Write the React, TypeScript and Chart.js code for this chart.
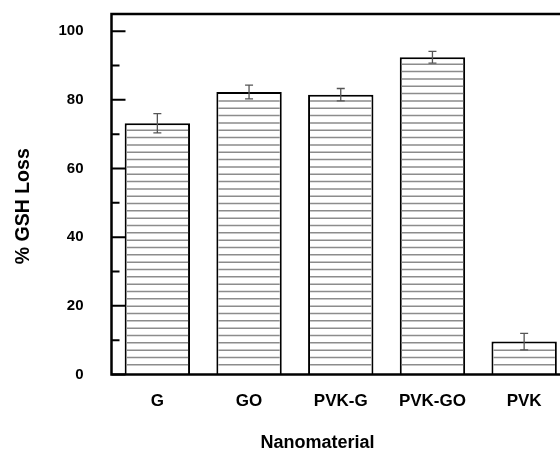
import React, { useEffect, useRef } from 'react';
import { Chart, registerables } from 'chart.js';

Chart.register(...registerables);

const categories = ['G', 'GO', 'PVK-G', 'PVK-GO', 'PVK'];
const gshLoss = [73.2, 82.3, 81.5, 92.4, 9.6];
const gshError = [2.8, 2.0, 1.8, 1.7, 2.4];
const yMajorTicks = [0, 20, 40, 60, 80, 100];
const yMinorTicks = [10, 30, 50, 70, 90];
const xTitle = 'Nanomaterial';
const yTitle = '% GSH Loss';

const FONT = '"Liberation Sans", Arial, Helvetica, sans-serif';

const decorPlugin = {
  id: 'decor',
  afterDatasetsDraw(chart: any) {
    const ctx: CanvasRenderingContext2D = chart.ctx;
    const { left, top, bottom } = chart.chartArea;
    const yScale = chart.scales.y;
    const meta = chart.getDatasetMeta(0);
    ctx.save();

    // horizontal hatch inside bars
    ctx.strokeStyle = '#8c8c8c';
    ctx.lineWidth = 1.5;
    meta.data.forEach((bar: any) => {
      const p = bar.getProps(['x', 'y', 'base', 'width'], true);
      const x0 = p.x - p.width / 2 + 2;
      const x1 = p.x + p.width / 2 - 2;
      ctx.beginPath();
      for (let ly = p.base - 9.7; ly > p.y + 3; ly -= 7.33) {
        ctx.moveTo(x0, ly);
        ctx.lineTo(x1, ly);
      }
      ctx.stroke();
    });

    // error bars
    ctx.strokeStyle = '#555';
    ctx.lineWidth = 1.3;
    meta.data.forEach((bar: any, i: number) => {
      const p = bar.getProps(['x'], true);
      const yHi = yScale.getPixelForValue(gshLoss[i] + gshError[i]);
      const yLo = yScale.getPixelForValue(gshLoss[i] - gshError[i]);
      ctx.beginPath();
      ctx.moveTo(p.x, yHi);
      ctx.lineTo(p.x, yLo);
      ctx.moveTo(p.x - 4, yHi);
      ctx.lineTo(p.x + 4, yHi);
      ctx.moveTo(p.x - 4, yLo);
      ctx.lineTo(p.x + 4, yLo);
      ctx.stroke();
    });

    // frame (left, top, bottom)
    ctx.strokeStyle = '#000';
    ctx.lineWidth = 2.5;
    ctx.lineCap = 'square';
    ctx.beginPath();
    ctx.moveTo(chart.width, top);
    ctx.lineTo(left, top);
    ctx.lineTo(left, bottom);
    ctx.lineTo(chart.width, bottom);
    ctx.stroke();

    // inward tick marks
    ctx.lineWidth = 2;
    ctx.lineCap = 'butt';
    ctx.beginPath();
    yMajorTicks.forEach((v) => {
      const py = yScale.getPixelForValue(v);
      ctx.moveTo(left, py);
      ctx.lineTo(left + 14, py);
    });
    yMinorTicks.forEach((v) => {
      const py = yScale.getPixelForValue(v);
      ctx.moveTo(left, py);
      ctx.lineTo(left + 8, py);
    });
    ctx.stroke();

    // axis titles
    ctx.fillStyle = '#000';
    ctx.textAlign = 'center';
    ctx.textBaseline = 'middle';
    ctx.font = `bold 18px ${FONT}`;
    ctx.fillText(xTitle, left + 206, bottom + 68.5);
    ctx.font = `bold 19.5px ${FONT}`;
    ctx.translate(24, (top + bottom) / 2 + 12);
    ctx.rotate(-Math.PI / 2);
    ctx.fillText(yTitle, 0, 0);
    ctx.restore();
  },
};

export default function App() {
  const canvasRef = useRef<HTMLCanvasElement | null>(null);

  useEffect(() => {
    if (!canvasRef.current) return;
    const chart = new Chart(canvasRef.current, {
      type: 'bar',
      data: {
        labels: categories,
        datasets: [
          {
            data: gshLoss,
            backgroundColor: '#ffffff',
            borderColor: '#000000',
            borderWidth: 2,
            borderSkipped: 'start',
            categoryPercentage: 1,
            barPercentage: 0.713,
          },
        ],
      },
      options: {
        responsive: false,
        animation: false,
        devicePixelRatio: 1,
        layout: { padding: { top: 14, right: 10, left: 0, bottom: 0 } },
        plugins: {
          legend: { display: false },
          tooltip: { enabled: false },
          title: { display: false },
        },
        scales: {
          x: {
            grid: { display: false, drawTicks: false },
            border: { display: false },
            ticks: {
              color: '#000',
              padding: 17,
              font: { family: FONT, size: 17, weight: 'bold' },
            },
            afterFit: (scale: any) => {
              scale.height = 76.5;
              scale.paddingLeft = 0;
              scale.paddingRight = 0;
            },
          },
          y: {
            min: 0,
            max: 105,
            grid: { display: false, drawTicks: false },
            border: { display: false },
            ticks: {
              stepSize: 20,
              includeBounds: false,
              color: '#000',
              padding: 28,
              font: { family: FONT, size: 15, weight: 'bold' },
            },
            afterFit: (scale: any) => {
              scale.width = 111.5;
              scale.paddingTop = 0;
              scale.paddingBottom = 0;
            },
          },
        },
      },
      plugins: [decorPlugin],
    });
    return () => chart.destroy();
  }, []);

  return (
    <div
      style={{
        position: 'fixed',
        left: 0,
        top: 0,
        width: 560,
        height: 451,
        overflow: 'hidden',
        background: '#fff',
      }}
    >
      <canvas ref={canvasRef} width={580} height={451} style={{ width: 580, height: 451 }} />
    </div>
  );
}
